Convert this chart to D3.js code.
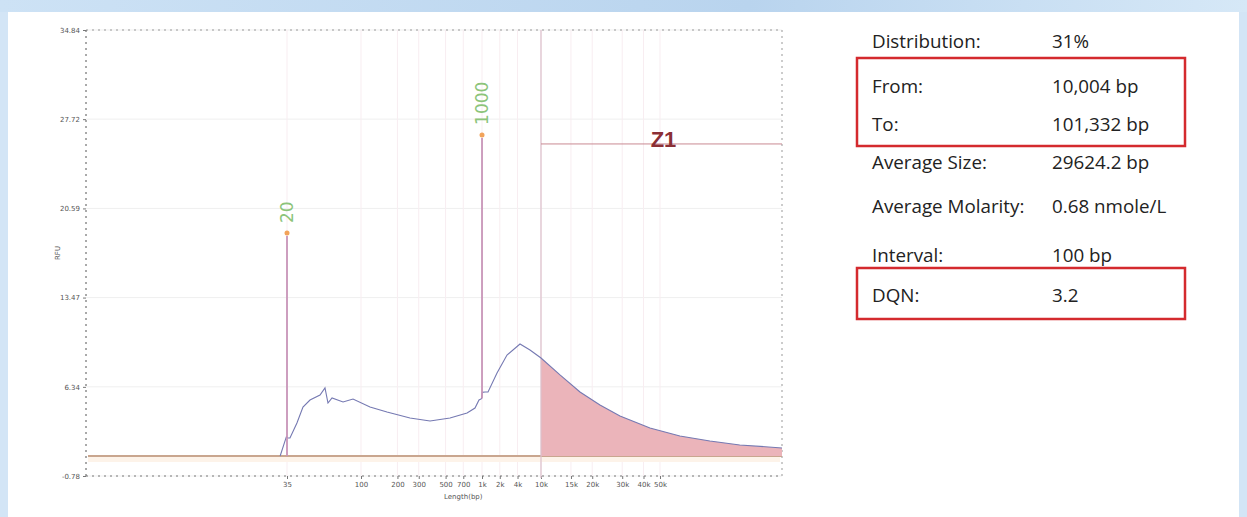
<!DOCTYPE html>
<html lang="en">
<head>
<meta charset="UTF-8">
<title>Electropherogram</title>
<script src="https://d3js.org/d3.v7.min.js"></script>
<style>
  body { margin: 0; background: #d3e5f6; }
  svg { display: block; }
  .tick-lbl { font-family: "DejaVu Sans", sans-serif; font-size: 7px; fill: #555; }
  .info { font-family: "Open Sans", sans-serif; font-size: 18.8px; fill: #222; }
</style>
</head>
<body>
<svg width="1247" height="517"></svg>
<script>
// size anchors of the (non-uniform) sizing ladder, in bp
var ladderSizes = [1, 35, 100, 1000, 10000, 50000, 101332];
var ladderFrac = [0, 0.2888, 0.3951, 0.569, 0.6537, 0.8247, 1];

var xTickValues = [35, 100, 200, 300, 500, 700, 1000, 2000, 4000, 10000, 15000, 20000, 30000, 40000, 50000];
var xTickLabels = ["35", "100", "200", "300", "500", "700", "1k", "2k", "4k", "10k", "15k", "20k", "30k", "40k", "50k"];
var yTickValues = [-0.78, 6.34, 13.47, 20.59, 27.72, 34.84];
var yTickLabels = ["-0.78", "6.34", "13.47", "20.59", "27.72", "34.84"];

// trace: size (bp) and RFU (marker spikes are drawn from `markers`)
var sizes = [31, 34, 34.6, 35.4, 36.5, 40.3, 43.9, 48.5, 55.9, 60, 62.6, 66.3, 77.5, 89.3,
  118.7, 164, 254, 372, 544, 752, 875, 944, 990, 1010, 1124, 1264, 1796, 2652, 4406, 6510,
  10004, 12930, 16950, 22210, 29110, 43660, 56100, 66750, 79350, 101332];
var rfu = [0.82, 2.1, 2.34, 2.26, 2.26, 3.45, 4.73, 5.29, 5.69, 6.25, 5.05, 5.45, 5.13, 5.37,
  4.73, 4.33, 3.85, 3.61, 3.85, 4.25, 4.65, 5.29, 5.4, 5.9, 5.93, 5.93, 7.45, 8.88, 9.76, 9.28,
  8.64, 7.29, 5.93, 4.89, 4.01, 3.05, 2.41, 2.02, 1.7, 1.46];
var baselineRfu = 0.82;

var markers = [
  { size: 35, rfu: 18.39, base: 0.82, label: "20" },
  { size: 1000, rfu: 26.22, base: 5.4, label: "1000" }
];
var zone = { from: 10004, to: 101332, level: 25.74, label: "Z1" };

var infoLabels = ["Distribution:", "From:", "To:", "Average Size:", "Average Molarity:", "Interval:", "DQN:"];
var infoValues = ["31%", "10,004 bp", "101,332 bp", "29624.2 bp", "0.68 nmole/L", "100 bp", "3.2"];
var infoRowY = [41, 86, 124, 162, 206, 255, 295];

var svg = d3.select("svg");

// page frame
var grad = svg.append("defs").append("linearGradient").attr("id", "topg");
grad.append("stop").attr("offset", "0%").attr("stop-color", "#cde2f5");
grad.append("stop").attr("offset", "60%").attr("stop-color", "#b9d4ee");
grad.append("stop").attr("offset", "100%").attr("stop-color", "#d6e8f7");
svg.append("rect").attr("x", 0).attr("y", 0).attr("width", 1247).attr("height", 12).attr("fill", "url(#topg)");
svg.append("rect").attr("x", 8).attr("y", 12).attr("width", 1231).attr("height", 505).attr("fill", "#fff");

var pLeft = 86, pRight = 782, pTop = 30, pBottom = 476;
var pWidth = pRight - pLeft;

var xl = d3.scaleLinear()
  .domain(ladderSizes.map(Math.log10))
  .range(ladderFrac.map(function(f) { return pLeft + f * pWidth; }));
function x(s) { return xl(Math.log10(s)); }
var y = d3.scaleLinear().domain([-0.78, 34.84]).range([pBottom, pTop]);

// grid
svg.append("g").selectAll("line").data(yTickValues).enter().append("line")
  .attr("x1", pLeft).attr("x2", pRight)
  .attr("y1", function(d) { return y(d); }).attr("y2", function(d) { return y(d); })
  .attr("stroke", "#efefef");
svg.append("g").selectAll("line").data(xTickValues).enter().append("line")
  .attr("x1", function(d) { return x(d); }).attr("x2", function(d) { return x(d); })
  .attr("y1", pTop).attr("y2", pBottom)
  .attr("stroke", "#f8edf1");

// frame (dotted)
svg.append("line").attr("x1", pLeft).attr("x2", pRight).attr("y1", pTop).attr("y2", pTop)
  .attr("stroke", "#999").attr("stroke-dasharray", "2,4");
svg.append("line").attr("x1", pRight).attr("x2", pRight).attr("y1", pTop).attr("y2", pBottom)
  .attr("stroke", "#999").attr("stroke-dasharray", "2,4");
svg.append("line").attr("x1", pLeft).attr("x2", pLeft).attr("y1", pTop).attr("y2", pBottom)
  .attr("stroke", "#555").attr("stroke-dasharray", "2,4");
svg.append("line").attr("x1", pLeft).attr("x2", pRight).attr("y1", pBottom).attr("y2", pBottom)
  .attr("stroke", "#777").attr("stroke-dasharray", "2,4");

// axes
var yAxis = svg.append("g").attr("transform", "translate(" + pLeft + ",0)")
  .call(d3.axisLeft(y).tickValues(yTickValues).tickSize(3)
    .tickFormat(function(d, i) { return yTickLabels[i]; }));
var xAxis = svg.append("g").attr("transform", "translate(0," + pBottom + ")")
  .call(d3.axisBottom(xl).tickValues(xTickValues.map(Math.log10)).tickSize(3)
    .tickFormat(function(d, i) { return xTickLabels[i]; }));
[yAxis, xAxis].forEach(function(a) {
  a.select(".domain").remove();
  a.selectAll("line").attr("stroke", "#777");
  a.selectAll("text").attr("class", "tick-lbl");
});

svg.append("text").attr("class", "tick-lbl")
  .attr("transform", "translate(60," + (pTop + pBottom) / 2 + ") rotate(-90)")
  .attr("text-anchor", "middle").text("RFU");
svg.append("text").attr("class", "tick-lbl")
  .attr("x", x(700)).attr("y", 499).attr("text-anchor", "middle").text("Length(bp)");

// baseline
svg.append("rect").attr("x", pLeft + 2).attr("width", pWidth - 4)
  .attr("y", y(baselineRfu)).attr("height", 6).attr("fill", "#fdf3e9");
svg.append("line").attr("x1", pLeft + 2).attr("x2", pRight)
  .attr("y1", y(baselineRfu)).attr("y2", y(baselineRfu))
  .attr("stroke", "#c9a68f").attr("stroke-width", 2);

var pts = sizes.map(function(s, i) { return [s, rfu[i]]; });

// zone fill
var zonePts = pts.filter(function(p) { return p[0] >= zone.from; });
svg.append("path").datum(zonePts)
  .attr("d", d3.area()
    .x(function(d) { return x(d[0]); })
    .y0(y(baselineRfu))
    .y1(function(d) { return y(d[1]); }))
  .attr("fill", "#ebb4ba");
svg.append("line").attr("x1", x(zone.from)).attr("x2", x(zone.from))
  .attr("y1", pTop).attr("y2", pBottom + 2)
  .attr("stroke", "#dcc0cb").attr("stroke-width", 1.2);
svg.append("line").attr("x1", x(zone.from)).attr("x2", pRight)
  .attr("y1", y(zone.level)).attr("y2", y(zone.level))
  .attr("stroke", "#c98a92").attr("stroke-width", 1);
svg.append("text").attr("x", (x(zone.from) + pRight) / 2 + 2).attr("y", y(zone.level) + 3)
  .attr("text-anchor", "middle")
  .style("font-family", "Liberation Sans, sans-serif").style("font-size", "22px")
  .style("font-weight", "bold").attr("fill", "#8b2f35").text(zone.label);

// trace
svg.append("path").datum(pts)
  .attr("d", d3.line().x(function(d) { return x(d[0]); }).y(function(d) { return y(d[1]); }))
  .attr("fill", "none").attr("stroke", "#7579b2").attr("stroke-width", 1.1);

// marker spikes
svg.append("g").selectAll("line").data(markers).enter().append("line")
  .attr("x1", function(d) { return x(d.size); }).attr("x2", function(d) { return x(d.size); })
  .attr("y1", function(d) { return y(d.base); }).attr("y2", function(d) { return y(d.rfu); })
  .attr("stroke", "#c895b8").attr("stroke-width", 1.8);

// marker labels
var ml = svg.append("g").selectAll("g").data(markers).enter().append("g")
  .attr("transform", function(d) { return "translate(" + x(d.size) + "," + (y(d.rfu) - 3) + ")"; });
ml.append("circle").attr("r", 2.5).attr("fill", "#f2a35a");
ml.append("text").attr("transform", "rotate(-90)").attr("x", 10).attr("y", 6)
  .style("font-family", "DejaVu Sans, sans-serif").style("font-size", "17px")
  .attr("fill", "#8cc47a").text(function(d) { return d.label; });

// info table
var info = svg.append("g");
infoLabels.forEach(function(l, i) {
  info.append("text").attr("class", "info").attr("x", 872).attr("y", infoRowY[i])
    .attr("dy", "0.35em").text(l);
  info.append("text").attr("class", "info").attr("x", 1052).attr("y", infoRowY[i])
    .attr("dy", "0.35em").text(infoValues[i]);
});
info.append("rect").attr("x", 857).attr("y", 58).attr("width", 328).attr("height", 88)
  .attr("fill", "none").attr("stroke", "#d42a2e").attr("stroke-width", 2.5);
info.append("rect").attr("x", 857).attr("y", 268).attr("width", 328).attr("height", 51)
  .attr("fill", "none").attr("stroke", "#d42a2e").attr("stroke-width", 2.5);
</script>
</body>
</html>
